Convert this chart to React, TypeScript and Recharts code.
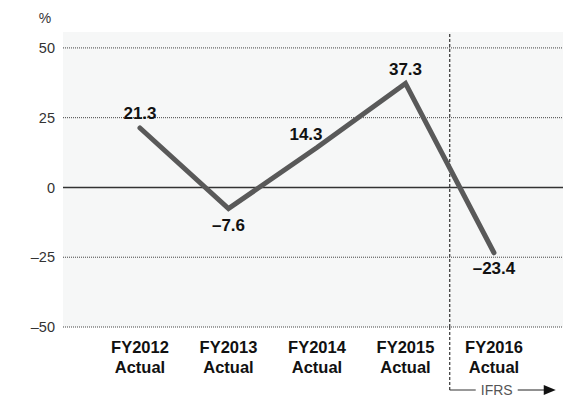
import React from 'react';
import { LineChart, Line, XAxis, YAxis, ReferenceArea, ReferenceLine, LabelList } from 'recharts';

const categories = ['FY2012', 'FY2013', 'FY2014', 'FY2015', 'FY2016'];
const subLabels = ['Actual', 'Actual', 'Actual', 'Actual', 'Actual'];
const values = [21.3, -7.6, 14.3, 37.3, -23.4];
const yTicks = [-50, -25, 0, 25, 50];
const ifrsLabel = 'IFRS';
const ifrsBoundary = 3.5; // between FY2015 and FY2016
const xDomain: [number, number] = [-0.87, 4.78];
const yDomain: [number, number] = [-50, 55.7];

const data = values.map((v, i) => ({ idx: i, value: v }));

const FONT = '"Liberation Sans", Arial, Helvetica, sans-serif';

// label placement offsets (dx, dy) relative to each point
const labelOffsets: [number, number][] = [
  [0, -15],
  [0, 16],
  [-11, -13],
  [0, -14],
  [0, 15],
];

const fmt = (v: number) => (v < 0 ? '\u2013' + Math.abs(v).toFixed(1) : v.toFixed(1));

const ValueLabel = (props: any) => {
  const { x, y, index, value } = props;
  const [dx, dy] = labelOffsets[index] || [0, -14];
  return (
    <text x={x + dx} y={y + dy} dy="0.35em" textAnchor="middle" fontFamily={FONT} fontWeight="bold" fontSize={17} fill="#111">
      {fmt(value)}
    </text>
  );
};

const CatTick = (props: any) => {
  const { x, y, payload } = props;
  const i = payload.value;
  return (
    <g>
      <text x={x} y={y + 12} dy="0.35em" textAnchor="middle" fontFamily={FONT} fontWeight="bold" fontSize={16.5} fill="#111">
        {categories[i]}
      </text>
      <text x={x} y={y + 32} dy="0.35em" textAnchor="middle" fontFamily={FONT} fontWeight="bold" fontSize={16.5} fill="#111">
        {subLabels[i]}
      </text>
    </g>
  );
};

const YTick = (props: any) => {
  const { x, y, payload } = props;
  const v = payload.value;
  return (
    <text x={x} y={y} dy="0.35em" textAnchor="end" fontFamily={FONT} fontSize={14.5} fill="#333">
      {v < 0 ? '\u2013' + Math.abs(v) : String(v)}
    </text>
  );
};

const IfrsMarker = (props: any) => {
  const { viewBox } = props;
  const x = viewBox.x;
  const bottom = viewBox.y + viewBox.height;
  const yb = 390;
  return (
    <g>
      <line x1={x} y1={bottom} x2={x} y2={yb} stroke="#333" strokeWidth={1.2} strokeDasharray="3 2" />
      <line x1={x} y1={yb} x2={x + 26} y2={yb} stroke="#333" strokeWidth={1} />
      <text x={x + 47} y={yb} dy="0.35em" textAnchor="middle" fontFamily={FONT} fontSize={14} fill="#555">
        {ifrsLabel}
      </text>
      <line x1={x + 68} y1={yb} x2={x + 95} y2={yb} stroke="#222" strokeWidth={1} />
      <polygon points={`${x + 94},${yb - 5} ${x + 106},${yb} ${x + 94},${yb + 5}`} fill="#111" />
    </g>
  );
};

const PercentLabel = () => (
  <text x={45} y={18} dy="0.35em" textAnchor="middle" fontFamily={FONT} fontSize={14} fill="#333">%</text>
);

export default function App() {
  return (
    <div style={{ position: 'absolute', left: 0, top: 0, width: 563, height: 402, background: '#fff' }}>
      <LineChart width={563} height={402} data={data} margin={{ top: 32, right: 0, bottom: 0, left: 0 }}>
        <XAxis
          type="number"
          dataKey="idx"
          domain={xDomain}
          ticks={[0, 1, 2, 3, 4]}
          axisLine={false}
          tickLine={false}
          tick={<CatTick />}
          height={75}
          interval={0}
          allowDataOverflow
        />
        <YAxis
          width={63}
          domain={yDomain}
          ticks={yTicks}
          axisLine={false}
          tickLine={false}
          tick={<YTick />}
          allowDataOverflow
          interval={0}
          label={<PercentLabel />}
        />
        <ReferenceArea x1={xDomain[0]} x2={xDomain[1]} y1={yDomain[0]} y2={yDomain[1]} fill="#f6f7f7" fillOpacity={1} stroke="none" />
        {yTicks.filter((t) => t !== 0).map((t) => (
          <ReferenceLine key={t} y={t} stroke="#444" strokeWidth={1} strokeDasharray="1 1" />
        ))}
        <ReferenceLine y={0} stroke="#333" strokeWidth={1.5} />
        <ReferenceLine x={ifrsBoundary} stroke="#333" strokeWidth={1.2} strokeDasharray="3 2" label={<IfrsMarker />} />
        <Line
          type="linear"
          dataKey="value"
          stroke="#595959"
          strokeWidth={5}
          dot={false}
          activeDot={false}
          isAnimationActive={false}
          strokeLinejoin="miter"
          strokeLinecap="round"
        >
          <LabelList dataKey="value" content={<ValueLabel />} />
        </Line>
      </LineChart>
    </div>
  );
}
